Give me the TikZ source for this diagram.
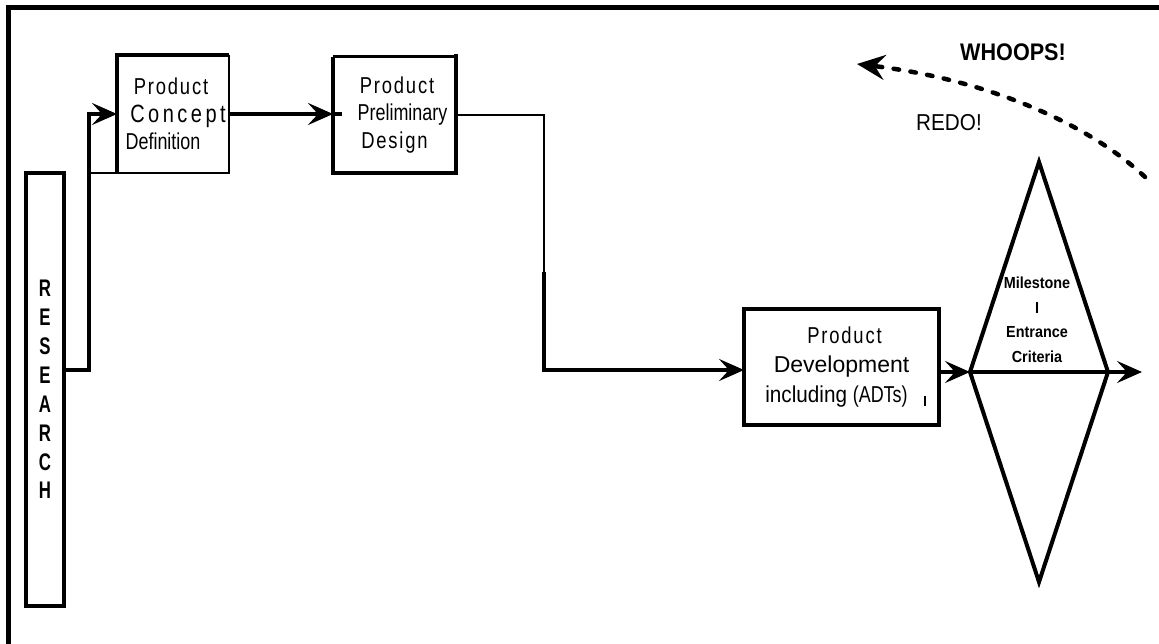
\documentclass[tikz,border=0pt]{standalone}
\usepackage{fontspec}
\setmainfont{Liberation Sans}
\newfontfamily\narrowfont[FakeStretch=0.78]{Liberation Sans}
\newfontfamily\spacedfont[FakeStretch=0.8,LetterSpace=8]{Liberation Sans}
\newfontfamily\widefont[FakeStretch=0.8,LetterSpace=14]{Liberation Sans}
\newfontfamily\tightfont[FakeStretch=0.9]{Liberation Sans}
\newfontfamily\researchfont[FakeStretch=0.7]{Liberation Sans}
\usetikzlibrary{arrows.meta,shapes.geometric}

\begin{document}
\begin{tikzpicture}[x=1pt,y=-1pt,
  box/.style={inner sep=0pt,outer sep=0pt,align=center},
  flow/.style={line width=4pt},
  feed/.style={line width=2.4pt},
  tip/.style={-{Stealth[length=25pt,width=22pt,inset=10pt]}},
  rimthick/.style={line width=4.5pt,line join=miter},
  rimthin/.style={line width=2.4pt},
  redo/.style={line width=4.5pt,line cap=round,dash pattern=on 5.5pt off 11.5pt,
    -{Stealth[length=28pt,width=25pt,inset=10pt]}}]

\useasboundingbox (0,0) rectangle (1159,644);

% page frame (left and top rules)
\draw[line width=5pt] (8,644) -- (8,8) -- (1159,8);

% research column
\node[box,draw,line width=3.5pt,minimum width=38pt,minimum height=433pt,
      font=\fontsize{24}{28.9}\researchfont\bfseries] (research) at (45,389.5)
  {R\\E\\S\\E\\A\\R\\C\\H};

% product concept definition
\node[box,minimum width=112pt,minimum height=118pt,
      font=\fontsize{23}{27.5}\selectfont] (pcd) at (173,114) {%
  {\spacedfont\hspace*{-4pt}Product}\\
  {\fontsize{25}{27.5}\widefont\hspace*{10pt}Concept}\\
  {\narrowfont Definition\hspace*{20pt}}};

% product preliminary design
\node[box,minimum width=123pt,minimum height=116pt,
      font=\fontsize{23}{27.5}\selectfont] (ppd) at (394.5,115) {%
  {\spacedfont\hspace*{5pt}Product}\\
  {\narrowfont\hspace*{16pt}Preliminary}\\
  {\spacedfont Design}};

% product development
\node[box,draw,line width=4.5pt,minimum width=195pt,minimum height=116pt,
      font=\fontsize{23}{29.5}\selectfont] (pd) at (841.5,367) {%
  {\spacedfont\hspace*{6pt}Product}\\
  Development\hspace*{6pt}\\
  {\tightfont including {\narrowfont(ADTs)}\hspace*{10pt}}};

% milestone gate
\node[diamond,draw,line width=4pt,inner sep=0pt,outer sep=0pt,
      minimum width=138pt,minimum height=420pt] (ms) at (1039,372) {};
\node[box,font=\fontsize{16}{24.5}\tightfont\bfseries] (mstext) at (1037,320)
  {Milestone\\I\\Entrance\\Criteria};

% box rims of uneven weight
\coordinate (rjog) at (89,370);
\draw[rimthick] (pcd.south west) -- (pcd.north west) -- (pcd.north east);
\draw[rimthin] (pcd.north east) -- (pcd.south east) -- (pcd.south -| rjog);
\draw[rimthick] (ppd.north west) -- (ppd.south west) -- (ppd.south east) -- ([yshift=3pt]ppd.north east);
\draw[line width=3pt] (ppd.north west) -- (ppd.north east);

% connectors
\draw[flow,tip] (rjog -| research.east) -- (rjog) |- (pcd.west);
\draw[flow,tip] (pcd.east) -- (pcd.east -| ppd.west);
\draw[flow] (pcd.east -| ppd.west) -- ++(9,0);

\coordinate (bend) at (544,115);
\coordinate (drop) at (544,272);
\coordinate (corner) at (544,370);
\draw[feed] (ppd.east |- bend) -- (bend) -- (drop);
\draw[flow,tip] (drop) -- (corner) -- (corner -| pd.west);

\draw[flow,tip] (ms.west -| pd.east) -- (ms.west);
\draw[flow] (ms.west) -- (ms.east);
\coordinate (exit) at (1142,372);
\draw[flow,tip] (ms.east) -- (exit);

% small mark beside the development box text
\coordinate (tick) at (925,401);
\draw[line width=1.3pt] ([yshift=5pt]tick) -- ([yshift=-5pt]tick);

% rework loop
\node[font=\fontsize{24}{24}\tightfont\bfseries] (whoops) at (1013,52) {WHOOPS!};
\node[font=\fontsize{23}{23}\tightfont] (redotext) at (949,123) {REDO!};
\coordinate (whoopsfrom) at (1145,177);
\coordinate (whoopsto) at (857,64);
\draw[redo] (whoopsfrom) .. controls (1090,125) and (990,80) .. (whoopsto);

\end{tikzpicture}
\end{document}
